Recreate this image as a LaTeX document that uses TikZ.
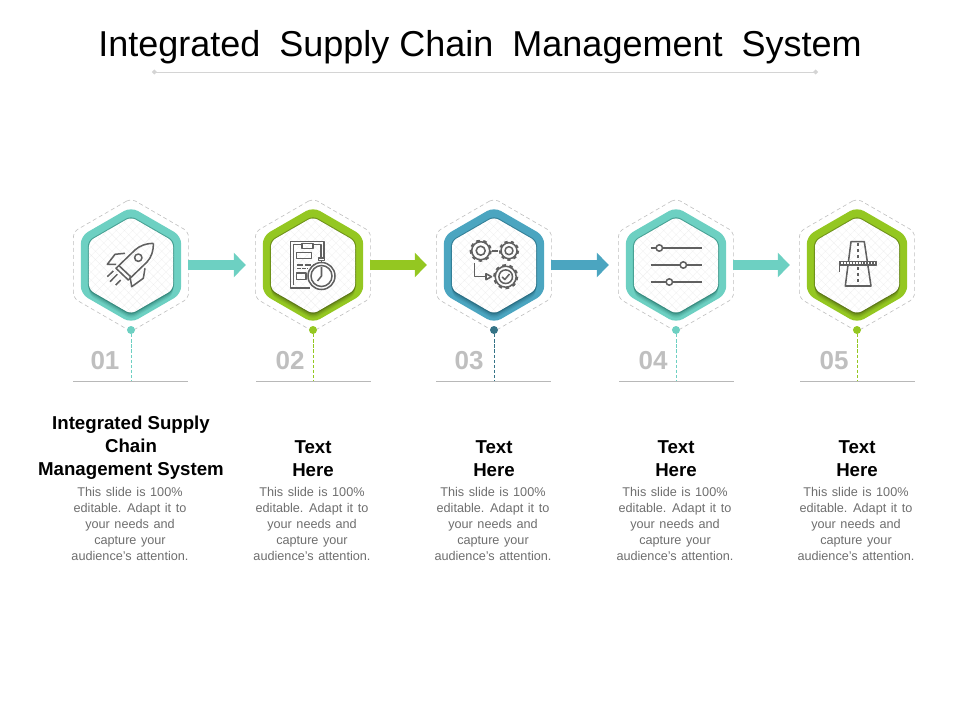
\documentclass[tikz,border=0pt]{standalone}
\usepackage{fontspec}
\setmainfont{Liberation Sans}
\usetikzlibrary{arrows.meta,shapes.geometric,shadows,patterns.meta}
\definecolor{tealmain}{HTML}{6DD0C2}
\definecolor{tealdark}{HTML}{2F8276}
\definecolor{greenmain}{HTML}{94C721}
\definecolor{greendark}{HTML}{566F14}
\definecolor{bluemain}{HTML}{4BA5C0}
\definecolor{bluedark}{HTML}{24677C}
\definecolor{iconc}{HTML}{606060}
\newcommand{\bodyfont}{\fontsize{9.5}{12}\selectfont\spaceskip=.36em\relax}
\tikzset{
  outerhex/.style={regular polygon, regular polygon sides=6, shape border rotate=30, inner sep=0pt, minimum size=99.7pt, draw=black!25, line width=.45pt, dash pattern=on 3pt off 2.2pt, rounded corners=4pt},
  ringhex/.style={regular polygon, regular polygon sides=6, shape border rotate=30, inner sep=0pt, minimum size=87pt, fill=#1, rounded corners=6pt},
  innerhex/.style={regular polygon, regular polygon sides=6, shape border rotate=30, inner sep=0pt, minimum size=72.75pt, rounded corners=4pt,
    drop shadow={shadow xshift=0pt, shadow yshift=-4pt, shadow scale=1, opacity=.15, fill=#1},
    drop shadow={shadow xshift=0pt, shadow yshift=-3pt, shadow scale=1, opacity=.2, fill=#1},
    drop shadow={shadow xshift=0pt, shadow yshift=-2pt, shadow scale=1, opacity=.3, fill=#1},
    drop shadow={shadow xshift=0pt, shadow yshift=-1pt, shadow scale=1, opacity=.4, fill=#1},
    drop shadow={shadow xshift=0pt, shadow yshift=0pt, shadow scale=1.025, opacity=.6, fill=#1},
    preaction={fill=white}, pattern={Hatch[angle=45,distance=4.4pt,line width=.15pt]}, pattern color=black!7},
  blockarrow/.style={line width=7.5pt, -{Triangle[length=9pt,width=18pt]}, shorten >=7pt, shorten <=-.5pt},
  dotnode/.style={circle, inner sep=0pt, minimum size=6pt, fill=#1},
  leader/.style={draw=#1, line width=.6pt, dash pattern=on 2.4pt off 1.4pt},
  baserule/.style={draw=black!28, line width=.7pt},
  numlabel/.style={font=\fontsize{19.5}{24}\selectfont\bfseries, text=black!25},
  headlabel/.style={font=\fontsize{14}{17.3}\selectfont\bfseries, align=center},
  bodylabel/.style={font=\bodyfont, align=center, text=black!57},
  iconline/.style={draw=iconc, line width=1.15pt, line join=round},
  gearteeth/.style={draw=iconc, line width=1.7pt}
}
\begin{document}
\begin{tikzpicture}[x=0.75pt, y=-0.75pt]
    \useasboundingbox (0, 0) rectangle (960, 720);

    \node (title) at (480, 47) [font=\fontsize{27}{33}\selectfont] {Integrated\hspace{.25em} Supply Chain\hspace{.25em} Management\hspace{.25em} System};
    \coordinate (rl) at (152, 72);
    \coordinate (rr) at (818, 72);
    \draw [draw=black!17, line width=.7pt, {Circle[length=3.5pt]}-{Circle[length=3.5pt]}] (rl) -- (rr);

    % hexagons
    \node (h1) at (131, 265) [outerhex] {};
    \node (h2) at (313, 265) [outerhex] {};
    \node (h3) at (494, 265) [outerhex] {};
    \node (h4) at (676, 265) [outerhex] {};
    \node (h5) at (857, 265) [outerhex] {};

    \node (r1) at (131, 265) [ringhex=tealmain] {};
    \node (r2) at (313, 265) [ringhex=greenmain] {};
    \node (r3) at (494, 265) [ringhex=bluemain] {};
    \node (r4) at (676, 265) [ringhex=tealmain] {};
    \node (r5) at (857, 265) [ringhex=greenmain] {};

    \node (w1) at (131, 265.5) [innerhex=tealdark] {};
    \node (w2) at (313, 265.5) [innerhex=greendark] {};
    \node (w3) at (494, 265.5) [innerhex=bluedark] {};
    \node (w4) at (676, 265.5) [innerhex=tealdark] {};
    \node (w5) at (857, 265.5) [innerhex=greendark] {};

    % arrows
    \draw [blockarrow, draw=tealmain, fill=tealmain] (h1) -- (h2);
    \draw [blockarrow, draw=greenmain, fill=greenmain] (h2) -- (h3);
    \draw [blockarrow, draw=bluemain, fill=bluemain] (h3) -- (h4);
    \draw [blockarrow, draw=tealmain, fill=tealmain] (h4) -- (h5);

    % leaders
    \coordinate (e1) at (131, 381);
    \coordinate (e2) at (313, 381);
    \coordinate (e3) at (494, 381);
    \coordinate (e4) at (676, 381);
    \coordinate (e5) at (857, 381);

    \node (d1) at (131, 330) [dotnode=tealmain] {};
    \node (d2) at (313, 330) [dotnode=greenmain] {};
    \node (d3) at (494, 330) [dotnode=bluemain!70!black] {};
    \node (d4) at (676, 330) [dotnode=tealmain] {};
    \node (d5) at (857, 330) [dotnode=greenmain] {};

    \draw [leader=tealmain] (d1) -- (e1);
    \draw [leader=greenmain] (d2) -- (e2);
    \draw [leader=bluemain!70!black] (d3) -- (e3);
    \draw [leader=tealmain] (d4) -- (e4);
    \draw [leader=greenmain] (d5) -- (e5);

    \coordinate (a1) at (73, 381.5);
    \coordinate (b1) at (188, 381.5);
    \coordinate (a2) at (256, 381.5);
    \coordinate (b2) at (371, 381.5);
    \coordinate (a3) at (436, 381.5);
    \coordinate (b3) at (551, 381.5);
    \coordinate (a4) at (619, 381.5);
    \coordinate (b4) at (734, 381.5);
    \coordinate (a5) at (800, 381.5);
    \coordinate (b5) at (915, 381.5);
    \draw [baserule] (a1) -- (b1);
    \draw [baserule] (a2) -- (b2);
    \draw [baserule] (a3) -- (b3);
    \draw [baserule] (a4) -- (b4);
    \draw [baserule] (a5) -- (b5);

    \node (n1) at (105, 361) [numlabel] {01};
    \node (n2) at (290, 361) [numlabel] {02};
    \node (n3) at (469, 361) [numlabel] {03};
    \node (n4) at (653, 361) [numlabel] {04};
    \node (n5) at (834, 361) [numlabel] {05};

    \node (t1) at (131, 448) [headlabel] {Integrated Supply\\Chain\\Management System};
    \node (t2) at (313, 459) [headlabel] {Text\\Here};
    \node (t3) at (494, 459) [headlabel] {Text\\Here};
    \node (t4) at (676, 459) [headlabel] {Text\\Here};
    \node (t5) at (857, 459) [headlabel] {Text\\Here};

    \node (s1) at (130, 524) [bodylabel] {This slide is 100\%\\editable. Adapt it to\\your needs and\\capture your\\audience's attention.};
    \node (s2) at (312, 524) [bodylabel] {This slide is 100\%\\editable. Adapt it to\\your needs and\\capture your\\audience's attention.};
    \node (s3) at (493, 524) [bodylabel] {This slide is 100\%\\editable. Adapt it to\\your needs and\\capture your\\audience's attention.};
    \node (s4) at (675, 524) [bodylabel] {This slide is 100\%\\editable. Adapt it to\\your needs and\\capture your\\audience's attention.};
    \node (s5) at (856, 524) [bodylabel] {This slide is 100\%\\editable. Adapt it to\\your needs and\\capture your\\audience's attention.};

    % rocket
    \draw [iconline] (153.3, 243.3) .. controls (146, 243.5) and (140, 245.5) .. (135, 250) -- (116, 268.3) -- (128.3, 280) -- (147, 262) .. controls (151.5, 257) and (153.5, 251) .. (153.3, 243.3);
    \draw [iconline] (138.3, 257.7) circle (3.7);
    \draw [iconline] (125, 253.3) -- (115, 254.3) -- (107.3, 264.3) -- (116, 264.3);
    \draw [iconline] (145, 268.3) -- (143.3, 278.3) -- (131.7, 286.7) -- (130, 276.7);
    \draw [iconline] (119, 265.7) -- (130.7, 276.7);
    \draw [iconline] (107.3, 276.7) -- (113.3, 271);
    \draw [iconline] (110, 281.7) -- (117.3, 274.3);
    \draw [iconline] (115.7, 285) -- (120.7, 280);

    % clipboard and stopwatch
    \draw [iconline] (309.5, 288) -- (290.5, 288) -- (290.5, 241.5) -- (324, 241.5) -- (324, 259);
    \draw [iconline] (293.5, 285) -- (293.5, 244.5) -- (302, 244.5);
    \draw [iconline] (313, 244.5) -- (321, 244.5) -- (321, 259);
    \draw [iconline] (302, 248.5) rectangle (313, 243.5);
    \draw [iconline] (296.5, 252.5) rectangle (311.5, 258.5);
    \draw [iconline, dash pattern=on 5pt off 1pt] (296.5, 265) -- (313, 265);
    \draw [iconline, dash pattern=on 3pt off 1pt] (296.5, 268.5) -- (308, 268.5);
    \draw [iconline] (296.5, 273) rectangle (306, 279.5);
    \draw [iconline, fill=white] (321.5, 276) circle (13.5);
    \draw [iconline] (321.5, 276) circle (10.5);
    \draw [iconline] (318.5, 258) rectangle (324.5, 260.5);
    \draw [iconline] (321.5, 260.5) -- (321.5, 262.5);
    \draw [iconline] (321.5, 267) -- (321.5, 276) -- (317.5, 281);

    % gears
    \draw [iconline] (480.7, 250.7) circle (9);
    \draw [gearteeth, dash pattern=on 2.7pt off 2.6pt] (480.7, 250.7) circle (10);
    \draw [iconline] (480.7, 250.7) circle (4.5);
    \draw [iconline, line width=1.5pt] (492.3, 250.7) -- (498.3, 250.7);
    \draw [iconline] (509, 250.7) circle (8);
    \draw [gearteeth, dash pattern=on 2.4pt off 2.3pt] (509, 250.7) circle (9);
    \draw [iconline] (509, 250.7) circle (4);
    \draw [iconline] (505.7, 276.7) circle (10.5);
    \draw [gearteeth, dash pattern=on 2.7pt off 2.7pt] (505.7, 276.7) circle (11.5);
    \draw [iconline] (505.7, 276.7) circle (6.8);
    \draw [iconline] (502.2, 276.9) -- (504.8, 279.5) -- (509.5, 274);
    \draw [iconline] (474.7, 263) -- (474.7, 276.7) -- (486, 276.7);
    \draw [iconline] (486, 273.7) -- (491.5, 276.7) -- (486, 279.7) -- cycle;

    % sliders
    \draw [iconline] (650.7, 248) -- (701.7, 248);
    \draw [iconline] (650.7, 265) -- (701.7, 265);
    \draw [iconline] (650.7, 282) -- (701.7, 282);
    \draw [iconline, fill=white] (659.3, 248) circle (3.2);
    \draw [iconline, fill=white] (683.3, 265) circle (3.2);
    \draw [iconline, fill=white] (669.3, 282) circle (3.2);

    % road
    \draw [iconline] (851, 241.7) -- (864.3, 241.7) -- (871, 286) -- (845.3, 286) -- cycle;
    \draw [iconline, dash pattern=on 2.5pt off 2pt] (858, 243) -- (858, 286);
    \draw [iconline, fill=white] (839.3, 261.5) rectangle (876.3, 265);
    \draw [iconline, line width=1.5pt, dash pattern=on 1pt off 1.2pt] (840, 263.2) -- (876, 263.2);
    \draw [iconline] (839.3, 265) -- (839.3, 272.5);
\end{tikzpicture}
\end{document}
